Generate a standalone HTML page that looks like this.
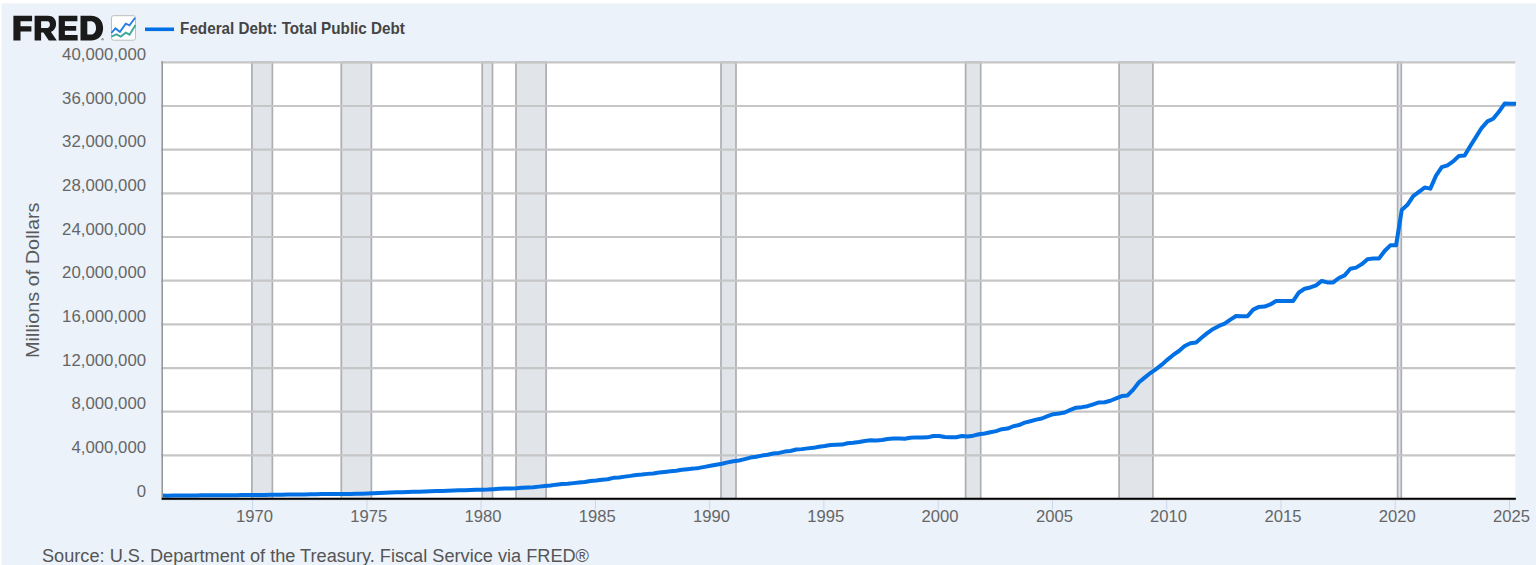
<!DOCTYPE html>
<html><head><meta charset="utf-8"><style>
html,body{margin:0;padding:0;background:#fff;}
body{width:1536px;height:565px;overflow:hidden;position:relative;}
svg{position:absolute;left:0;top:0;}
.ax{font-family:"Liberation Sans",sans-serif;font-size:16.8px;fill:#666;}
.yt{font-family:"Liberation Sans",sans-serif;font-size:18px;fill:#5a5a5a;}
.src{font-family:"Liberation Sans",sans-serif;font-size:18px;fill:#555;}
.leg{font-family:"Liberation Sans",sans-serif;font-size:16.3px;font-weight:bold;fill:#444;}
</style></head><body>
<svg width="1536" height="565" viewBox="0 0 1536 565">
<rect x="1.6" y="3.4" width="1540" height="570" fill="#ebf2fa"/>
<rect x="161.2" y="62.3" width="1354.1" height="436.8" fill="#fff"/>
<rect x="251.9" y="62.3" width="20.5" height="436.8" fill="#e1e5ea" stroke="#acaeb1" stroke-width="1.7"/>
<rect x="341.3" y="62.3" width="30.1" height="436.8" fill="#e1e5ea" stroke="#acaeb1" stroke-width="1.7"/>
<rect x="482.2" y="62.3" width="10.3" height="436.8" fill="#e1e5ea" stroke="#acaeb1" stroke-width="1.7"/>
<rect x="516.0" y="62.3" width="30.1" height="436.8" fill="#e1e5ea" stroke="#acaeb1" stroke-width="1.7"/>
<rect x="721.0" y="62.3" width="15.0" height="436.8" fill="#e1e5ea" stroke="#acaeb1" stroke-width="1.7"/>
<rect x="965.6" y="62.3" width="15.1" height="436.8" fill="#e1e5ea" stroke="#acaeb1" stroke-width="1.7"/>
<rect x="1119.1" y="62.3" width="33.8" height="436.8" fill="#e1e5ea" stroke="#acaeb1" stroke-width="1.7"/>
<rect x="1397.6" y="62.3" width="3.7" height="436.8" fill="#e1e5ea" stroke="#acaeb1" stroke-width="1.7"/>
<line x1="161.2" x2="1515.3" y1="499.1" y2="499.1" stroke="#c6c6c6" stroke-width="2.2"/>
<line x1="161.2" x2="1515.3" y1="455.4" y2="455.4" stroke="#c6c6c6" stroke-width="2.2"/>
<line x1="161.2" x2="1515.3" y1="411.7" y2="411.7" stroke="#c6c6c6" stroke-width="2.2"/>
<line x1="161.2" x2="1515.3" y1="368.1" y2="368.1" stroke="#c6c6c6" stroke-width="2.2"/>
<line x1="161.2" x2="1515.3" y1="324.4" y2="324.4" stroke="#c6c6c6" stroke-width="2.2"/>
<line x1="161.2" x2="1515.3" y1="280.7" y2="280.7" stroke="#c6c6c6" stroke-width="2.2"/>
<line x1="161.2" x2="1515.3" y1="237.0" y2="237.0" stroke="#c6c6c6" stroke-width="2.2"/>
<line x1="161.2" x2="1515.3" y1="193.3" y2="193.3" stroke="#c6c6c6" stroke-width="2.2"/>
<line x1="161.2" x2="1515.3" y1="149.7" y2="149.7" stroke="#c6c6c6" stroke-width="2.2"/>
<line x1="161.2" x2="1515.3" y1="106.0" y2="106.0" stroke="#c6c6c6" stroke-width="2.2"/>
<line x1="161.2" x2="1515.3" y1="62.3" y2="62.3" stroke="#c6c6c6" stroke-width="2.2"/>
<path d="M161.99,495.59 L167.70,495.65 L173.41,495.55 L179.13,495.50 L184.84,495.49 L190.55,495.57 L196.27,495.41 L201.98,495.34 L207.69,495.30 L213.41,495.33 L219.12,495.22 L224.83,495.19 L230.55,495.17 L236.26,495.24 L241.97,495.10 L247.69,495.08 L253.40,495.04 L259.11,495.05 L264.83,494.91 L270.54,494.85 L276.25,494.82 L281.97,494.75 L287.68,494.57 L293.39,494.47 L299.11,494.43 L304.82,494.43 L310.53,494.32 L316.25,494.19 L321.96,494.10 L327.67,494.10 L333.39,494.06 L339.10,493.97 L344.81,493.92 L350.53,493.91 L356.24,493.81 L361.95,493.72 L367.67,493.53 L373.38,493.28 L379.09,493.05 L384.80,492.80 L390.52,492.54 L396.23,492.32 L401.94,492.17 L407.66,491.96 L413.37,491.67 L419.08,491.74 L424.80,491.47 L430.51,491.26 L436.22,491.04 L441.94,490.91 L447.65,490.67 L453.36,490.48 L459.08,490.31 L464.79,490.31 L470.50,490.07 L476.22,489.87 L481.93,489.67 L487.64,489.52 L493.36,489.18 L499.07,488.87 L504.78,488.50 L510.50,488.43 L516.21,488.20 L521.92,487.80 L527.64,487.46 L533.35,487.26 L539.06,486.63 L544.78,485.97 L550.49,485.46 L556.20,484.64 L561.92,484.01 L567.63,483.70 L573.34,483.12 L579.06,482.53 L584.77,481.93 L590.48,480.94 L596.19,480.42 L601.91,479.72 L607.62,479.19 L613.33,477.85 L619.05,477.40 L624.76,476.61 L630.47,475.89 L636.19,474.91 L641.90,474.52 L647.61,473.88 L653.33,473.43 L659.04,472.55 L664.75,471.94 L670.47,471.28 L676.18,470.68 L681.89,469.79 L687.61,469.17 L693.32,468.61 L699.03,467.90 L704.75,466.85 L710.46,465.76 L716.17,464.77 L721.89,463.79 L727.60,462.36 L733.31,461.26 L739.03,460.46 L744.74,459.07 L750.45,457.59 L756.17,456.72 L761.88,455.59 L767.59,454.71 L773.31,453.49 L779.02,452.90 L784.73,451.58 L790.45,450.93 L796.16,449.57 L801.87,449.13 L807.59,448.37 L813.30,447.86 L819.01,446.68 L824.73,445.98 L830.44,445.03 L836.15,444.78 L841.86,444.62 L847.58,443.21 L853.29,442.74 L859.00,442.05 L864.72,440.97 L870.43,440.34 L876.14,440.39 L881.86,439.99 L887.57,439.01 L893.28,438.58 L899.00,438.52 L904.71,438.75 L910.42,437.79 L916.14,437.38 L921.85,437.52 L927.56,437.33 L933.28,436.03 L938.99,436.05 L944.70,437.01 L950.42,437.14 L956.13,437.27 L961.84,436.05 L967.56,436.56 L973.27,435.68 L978.98,434.20 L984.70,433.51 L990.41,432.20 L996.12,431.09 L1001.84,429.15 L1007.55,428.55 L1013.26,426.26 L1018.98,425.03 L1024.69,422.68 L1030.40,421.23 L1036.12,419.66 L1041.83,418.52 L1047.54,416.15 L1053.25,414.18 L1058.97,413.53 L1064.68,412.47 L1070.39,409.88 L1076.11,407.69 L1081.82,407.15 L1087.53,406.20 L1093.25,404.31 L1098.96,402.46 L1104.67,402.26 L1110.39,400.74 L1116.10,398.32 L1121.81,396.04 L1127.53,395.45 L1133.24,389.63 L1138.95,382.26 L1144.67,377.59 L1150.38,373.03 L1156.09,369.04 L1161.81,364.66 L1167.52,359.62 L1173.23,354.94 L1178.95,351.01 L1184.66,345.94 L1190.37,343.27 L1196.09,342.47 L1201.80,337.59 L1207.51,332.87 L1213.23,328.94 L1218.94,325.96 L1224.65,323.66 L1230.37,319.65 L1236.08,315.95 L1241.79,316.32 L1247.51,316.32 L1253.22,309.62 L1258.93,306.89 L1264.65,306.55 L1270.36,304.46 L1276.07,301.00 L1281.78,300.88 L1287.50,300.88 L1293.21,300.90 L1298.92,292.47 L1304.64,288.73 L1310.35,287.45 L1316.06,285.36 L1321.78,280.95 L1327.49,282.38 L1333.20,282.40 L1338.92,278.03 L1344.63,275.32 L1350.34,268.80 L1356.06,267.65 L1361.77,264.14 L1367.48,259.14 L1373.20,258.56 L1378.91,258.61 L1384.62,251.00 L1390.34,245.32 L1396.05,245.32 L1401.76,209.97 L1407.48,204.86 L1413.19,196.09 L1418.90,191.89 L1424.62,187.56 L1430.33,188.66 L1436.04,175.68 L1441.76,167.12 L1447.47,165.29 L1453.18,161.36 L1458.90,156.00 L1464.61,155.57 L1470.32,146.03 L1476.04,136.91 L1481.75,127.80 L1487.46,121.42 L1493.18,118.74 L1498.89,111.83 L1504.60,103.59 L1510.32,103.64 L1516.03,103.68" fill="none" stroke="#0070e4" stroke-width="4" stroke-linejoin="round"/>
<line x1="162.2" x2="162.2" y1="61.3" y2="499.6" stroke="#979797" stroke-width="1.6"/>
<line x1="161.8" x2="1515.9" y1="498.8" y2="498.8" stroke="#000" stroke-width="2.1"/>
<line x1="252.6" x2="252.6" y1="500" y2="509.6" stroke="#ccd6eb" stroke-width="1"/>
<text x="254.5" y="522" text-anchor="middle" class="ax" textLength="37" lengthAdjust="spacingAndGlyphs">1970</text>
<line x1="366.9" x2="366.9" y1="500" y2="509.6" stroke="#ccd6eb" stroke-width="1"/>
<text x="368.8" y="522" text-anchor="middle" class="ax" textLength="37" lengthAdjust="spacingAndGlyphs">1975</text>
<line x1="481.1" x2="481.1" y1="500" y2="509.6" stroke="#ccd6eb" stroke-width="1"/>
<text x="483.0" y="522" text-anchor="middle" class="ax" textLength="37" lengthAdjust="spacingAndGlyphs">1980</text>
<line x1="595.4" x2="595.4" y1="500" y2="509.6" stroke="#ccd6eb" stroke-width="1"/>
<text x="597.3" y="522" text-anchor="middle" class="ax" textLength="37" lengthAdjust="spacingAndGlyphs">1985</text>
<line x1="709.7" x2="709.7" y1="500" y2="509.6" stroke="#ccd6eb" stroke-width="1"/>
<text x="711.6" y="522" text-anchor="middle" class="ax" textLength="37" lengthAdjust="spacingAndGlyphs">1990</text>
<line x1="823.9" x2="823.9" y1="500" y2="509.6" stroke="#ccd6eb" stroke-width="1"/>
<text x="825.8" y="522" text-anchor="middle" class="ax" textLength="37" lengthAdjust="spacingAndGlyphs">1995</text>
<line x1="938.2" x2="938.2" y1="500" y2="509.6" stroke="#ccd6eb" stroke-width="1"/>
<text x="940.1" y="522" text-anchor="middle" class="ax" textLength="37" lengthAdjust="spacingAndGlyphs">2000</text>
<line x1="1052.5" x2="1052.5" y1="500" y2="509.6" stroke="#ccd6eb" stroke-width="1"/>
<text x="1054.4" y="522" text-anchor="middle" class="ax" textLength="37" lengthAdjust="spacingAndGlyphs">2005</text>
<line x1="1166.7" x2="1166.7" y1="500" y2="509.6" stroke="#ccd6eb" stroke-width="1"/>
<text x="1168.6" y="522" text-anchor="middle" class="ax" textLength="37" lengthAdjust="spacingAndGlyphs">2010</text>
<line x1="1281.0" x2="1281.0" y1="500" y2="509.6" stroke="#ccd6eb" stroke-width="1"/>
<text x="1282.9" y="522" text-anchor="middle" class="ax" textLength="37" lengthAdjust="spacingAndGlyphs">2015</text>
<line x1="1395.2" x2="1395.2" y1="500" y2="509.6" stroke="#ccd6eb" stroke-width="1"/>
<text x="1397.2" y="522" text-anchor="middle" class="ax" textLength="37" lengthAdjust="spacingAndGlyphs">2020</text>
<line x1="1509.5" x2="1509.5" y1="500" y2="509.6" stroke="#ccd6eb" stroke-width="1"/>
<text x="1511.4" y="522" text-anchor="middle" class="ax" textLength="37" lengthAdjust="spacingAndGlyphs">2025</text>
<text x="146.1" y="496.8" text-anchor="end" class="ax">0</text>
<text x="146.1" y="453.1" text-anchor="end" class="ax">4,000,000</text>
<text x="146.1" y="409.4" text-anchor="end" class="ax">8,000,000</text>
<text x="146.1" y="365.8" text-anchor="end" class="ax">12,000,000</text>
<text x="146.1" y="322.1" text-anchor="end" class="ax">16,000,000</text>
<text x="146.1" y="278.4" text-anchor="end" class="ax">20,000,000</text>
<text x="146.1" y="234.7" text-anchor="end" class="ax">24,000,000</text>
<text x="146.1" y="191.0" text-anchor="end" class="ax">28,000,000</text>
<text x="146.1" y="147.4" text-anchor="end" class="ax">32,000,000</text>
<text x="146.1" y="103.7" text-anchor="end" class="ax">36,000,000</text>
<text x="146.1" y="60.0" text-anchor="end" class="ax">40,000,000</text>
<text transform="translate(39,280.2) rotate(-90)" text-anchor="middle" class="yt" textLength="155.5" lengthAdjust="spacingAndGlyphs">Millions of Dollars</text>
<text x="42" y="562" class="src" textLength="547" lengthAdjust="spacingAndGlyphs">Source: U.S. Department of the Treasury. Fiscal Service via FRED®</text>
<line x1="145" x2="174" y1="29.3" y2="29.3" stroke="#0070e4" stroke-width="3.6"/>
<text x="180.1" y="34.1" class="leg" textLength="224.8" lengthAdjust="spacingAndGlyphs">Federal Debt: Total Public Debt</text>
<rect x="111.5" y="15.7" width="24" height="24.5" rx="2" fill="#fff" stroke="#bdbdbd" stroke-width="1"/>
<polyline points="111.4,33.0 115.4,28.4 119.9,31.8 125.8,23.6 129.5,25.3 135.2,17.7" fill="none" stroke="#2a7de1" stroke-width="1.9"/>
<polyline points="111.4,36.6 116.5,34.4 120.7,36.6 125.8,32.7 129.5,34.7 135.5,25.0" fill="none" stroke="#3fa898" stroke-width="1.9"/>
<path fill="#1b1a1a" fill-rule="evenodd" d="M13.4,15.7 H32.1 V21.3 H20.5 V26.2 H31.4 V31.5 H20.5 V40.6 H13.4 Z M34.6,15.7 H48 C53,15.7 56.1,19 56.1,23.8 C56.1,27.6 54,30.8 51.0,31.9 L56.8,40.6 H48.8 L43.4,32.6 H41.1 V40.6 H34.6 Z M41.1,21.3 V27.9 H47.5 C49,27.9 49.9,26.6 49.9,24.6 C49.9,22.6 49,21.3 47.5,21.3 Z M58.7,15.7 H77.4 V21.3 H64.9 V25.9 H76.2 V30.7 H64.9 V34.9 H77.65 V40.6 H58.7 Z M80.5,15.7 H91 C98.5,15.7 103.1,20.6 103.1,28.1 C103.1,35.6 98.5,40.6 91,40.6 H80.5 Z M87.3,21.3 V34.6 H90.5 C94,34.6 96,32 96,28 C96,24 94,21.3 90.5,21.3 Z"/>
<circle cx="102.5" cy="39.2" r="1.2" fill="#9a9a9a"/>
</svg></body></html>
